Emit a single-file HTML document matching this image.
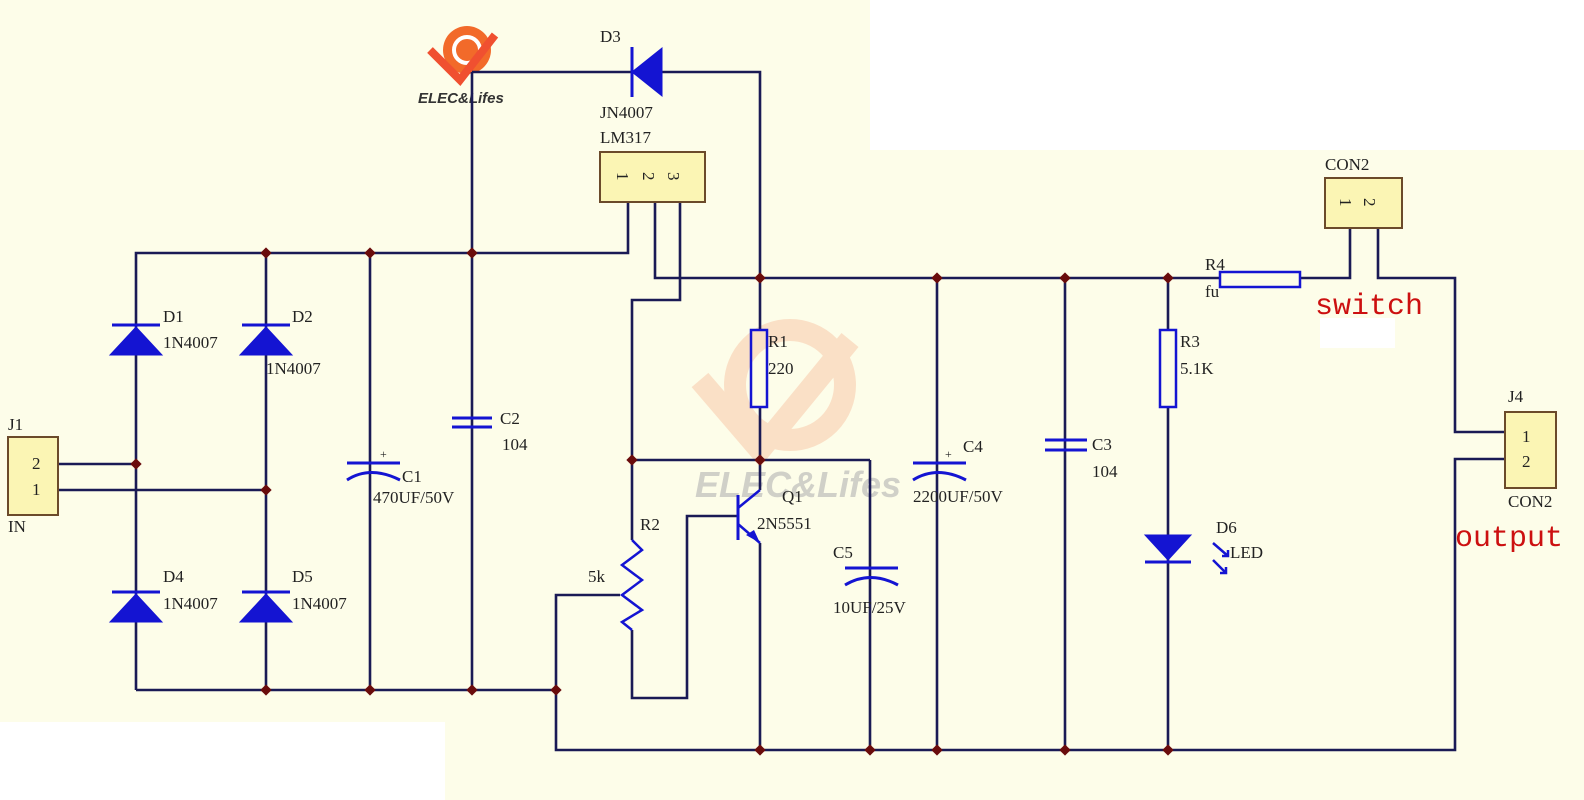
<!DOCTYPE html>
<html><head><meta charset="utf-8"><style>
html,body{margin:0;padding:0;background:#fdfde9;}
svg{display:block}
text{font-family:"Liberation Serif",serif;font-size:17px;fill:#222;}
</style></head><body>
<svg width="1584" height="800" viewBox="0 0 1584 800" xmlns="http://www.w3.org/2000/svg">
<defs><rect id="j" x="-4" y="-4" width="8" height="8" transform="rotate(45)"/></defs>
<rect x="0" y="0" width="1584" height="800" fill="#fdfde9"/>
<rect x="870" y="0" width="714" height="150" fill="#ffffff"/>
<rect x="0" y="722" width="445" height="78" fill="#ffffff"/>
<rect x="1320" y="318" width="75" height="30" fill="#ffffff"/>

<g opacity="0.2">
<circle cx="790" cy="385" r="55" fill="none" stroke="#f07040" stroke-width="22"/>
<path d="M700 380 L760 450 L850 340" fill="none" stroke="#f07040" stroke-width="22"/>
</g>
<text x="695" y="497" style="font-size:36px;font-style:italic;font-weight:bold;fill:#d0d0c8;font-family:'Liberation Sans',sans-serif">ELEC&amp;Lifes</text>

<circle cx="467" cy="50" r="24" fill="#f26a2a"/>
<circle cx="467" cy="50" r="13" fill="none" stroke="#fff" stroke-width="4"/>
<path d="M430 50 L460 80 L495 35" fill="none" stroke="#f05030" stroke-width="8"/>
<text x="418" y="103" style="font-size:15px;font-style:italic;font-weight:bold;font-family:'Liberation Sans',sans-serif;fill:#333">ELEC&amp;Lifes</text>

<g stroke="#1a1a55" stroke-width="2.6" fill="none">
<polyline points="136,690 136,253 628,253 628,203"/>
<line x1="266" y1="253" x2="266" y2="690"/>
<line x1="370" y1="253" x2="370" y2="690"/>
<line x1="472" y1="72" x2="472" y2="690"/>
<line x1="136" y1="690" x2="556" y2="690"/>
<line x1="472" y1="72" x2="632" y2="72"/>
<polyline points="662,72 760,72 760,330"/>
<polyline points="655,203 655,278 1220,278"/>
<polyline points="680,203 680,300 632,300 632,540"/>
<polyline points="632,630 632,698 687,698 687,516 738,516"/>
<line x1="632" y1="460" x2="870" y2="460"/>
<line x1="760" y1="407" x2="760" y2="490"/>
<polyline points="870,460 870,750"/>
<polyline points="556,690 556,750 1455,750 1455,459 1505,459"/>
<polyline points="620,595 556,595 556,690"/>
<line x1="760" y1="543" x2="760" y2="750"/>
<line x1="937" y1="278" x2="937" y2="750"/>
<line x1="1065" y1="278" x2="1065" y2="750"/>
<line x1="1168" y1="278" x2="1168" y2="330"/>
<line x1="1168" y1="407" x2="1168" y2="750"/>
<polyline points="1300,278 1350,278 1350,228"/>
<polyline points="1378,228 1378,278 1455,278 1455,432 1505,432"/>
<line x1="58" y1="464" x2="136" y2="464"/>
<line x1="58" y1="490" x2="266" y2="490"/>
</g>

<g fill="#fbf5b4" stroke="#6b4a2a" stroke-width="2">
<rect x="600" y="152" width="105" height="50"/>
<rect x="1325" y="178" width="77" height="50"/>
<rect x="8" y="437" width="50" height="78"/>
<rect x="1505" y="412" width="51" height="76"/>
</g>
<g style="font-size:17px">
<text x="617" y="182" transform="rotate(90 622 177)">1</text>
<text x="643" y="182" transform="rotate(90 648 177)">2</text>
<text x="668" y="182" transform="rotate(90 673 177)">3</text>
<text x="1340" y="208" transform="rotate(90 1345 203)">1</text>
<text x="1364" y="208" transform="rotate(90 1369 203)">2</text>
</g>
<text x="32" y="469">2</text><text x="32" y="495">1</text>
<text x="1522" y="442">1</text><text x="1522" y="467">2</text>

<g fill="#1414d2" stroke="#1414d2" stroke-width="3">
<line x1="632" y1="47" x2="632" y2="97"/>
<polygon points="632,72 662,48 662,96" stroke-width="1"/>
<line x1="112" y1="325" x2="160" y2="325"/><polygon points="136,327 110,355 162,355" stroke-width="1"/>
<line x1="242" y1="325" x2="290" y2="325"/><polygon points="266,327 240,355 292,355" stroke-width="1"/>
<line x1="112" y1="592" x2="160" y2="592"/><polygon points="136,594 110,622 162,622" stroke-width="1"/>
<line x1="242" y1="592" x2="290" y2="592"/><polygon points="266,594 240,622 292,622" stroke-width="1"/>
<polygon points="1145,535 1191,535 1168,560" stroke-width="1"/>
<line x1="1145" y1="562" x2="1191" y2="562"/>
</g>
<g stroke="#1414d2" stroke-width="3" fill="none">
<line x1="347" y1="463" x2="400" y2="463"/><path d="M347 480 Q370 465 400 480"/>
<line x1="452" y1="418" x2="492" y2="418"/><line x1="452" y1="427" x2="492" y2="427"/>
<line x1="913" y1="463" x2="966" y2="463"/><path d="M913 480 Q937 465 966 480"/>
<line x1="1045" y1="440" x2="1087" y2="440"/><line x1="1045" y1="450" x2="1087" y2="450"/>
<line x1="845" y1="568" x2="898" y2="568"/><path d="M845 585 Q870 570 898 585"/>
<rect x="751" y="330" width="16" height="77" stroke-width="2.5"/>
<rect x="1160" y="330" width="16" height="77" stroke-width="2.5"/>
<rect x="1220" y="272" width="80" height="15" stroke-width="2.5"/>
<polyline points="632,540 642,550 622,565 642,580 622,595 642,610 622,622 632,630" stroke-width="2.5"/>
<line x1="738" y1="495" x2="738" y2="540" stroke-width="3"/>
<line x1="738" y1="508" x2="760" y2="490" stroke-width="2.5"/>
<line x1="738" y1="524" x2="760" y2="543" stroke-width="2.5"/>
<path d="M1213 543 L1228 556 M1222 556 L1228 556 L1228 550" stroke-width="2.5"/>
<path d="M1213 560 L1226 573 M1220 573 L1226 573 L1226 567" stroke-width="2.5"/>
</g>
<polygon points="760,543 746,535 754,530" fill="#1414d2"/>
<text x="380" y="458" style="font-size:12px">+</text>
<text x="945" y="458" style="font-size:12px">+</text>

<g fill="#6a0c0c">
<use href="#j" x="266" y="253"/><use href="#j" x="370" y="253"/><use href="#j" x="472" y="253"/>
<use href="#j" x="136" y="464"/><use href="#j" x="266" y="490"/>
<use href="#j" x="266" y="690"/><use href="#j" x="370" y="690"/><use href="#j" x="472" y="690"/><use href="#j" x="556" y="690"/>
<use href="#j" x="760" y="278"/><use href="#j" x="937" y="278"/><use href="#j" x="1065" y="278"/><use href="#j" x="1168" y="278"/>
<use href="#j" x="632" y="460"/><use href="#j" x="760" y="460"/>
<use href="#j" x="760" y="750"/><use href="#j" x="870" y="750"/><use href="#j" x="937" y="750"/><use href="#j" x="1065" y="750"/><use href="#j" x="1168" y="750"/>
</g>

<text x="600" y="42">D3</text>
<text x="600" y="118">JN4007</text>
<text x="600" y="143">LM317</text>
<text x="163" y="322">D1</text><text x="163" y="348">1N4007</text>
<text x="292" y="322">D2</text><text x="266" y="374">1N4007</text>
<text x="163" y="582">D4</text><text x="163" y="609">1N4007</text>
<text x="292" y="582">D5</text><text x="292" y="609">1N4007</text>
<text x="8" y="430">J1</text><text x="8" y="532">IN</text>
<text x="402" y="482">C1</text><text x="373" y="503">470UF/50V</text>
<text x="500" y="424">C2</text><text x="502" y="450">104</text>
<text x="768" y="347">R1</text><text x="768" y="374">220</text>
<text x="640" y="530">R2</text><text x="588" y="582">5k</text>
<text x="782" y="502">Q1</text><text x="757" y="529">2N5551</text>
<text x="833" y="558">C5</text><text x="833" y="613">10UF/25V</text>
<text x="963" y="452">C4</text><text x="913" y="502">2200UF/50V</text>
<text x="1092" y="450">C3</text><text x="1092" y="477">104</text>
<text x="1180" y="347">R3</text><text x="1180" y="374">5.1K</text>
<text x="1216" y="533">D6</text><text x="1230" y="558">LED</text>
<text x="1205" y="270">R4</text><text x="1205" y="297">fu</text>
<text x="1325" y="170">CON2</text>
<text x="1508" y="402">J4</text><text x="1508" y="507">CON2</text>
<text x="1315" y="314" style="font-family:'Liberation Mono',monospace;font-size:30px;fill:#cc1010">switch</text>
<text x="1455" y="546" style="font-family:'Liberation Mono',monospace;font-size:30px;fill:#cc1010">output</text>
</svg>
</body></html>
